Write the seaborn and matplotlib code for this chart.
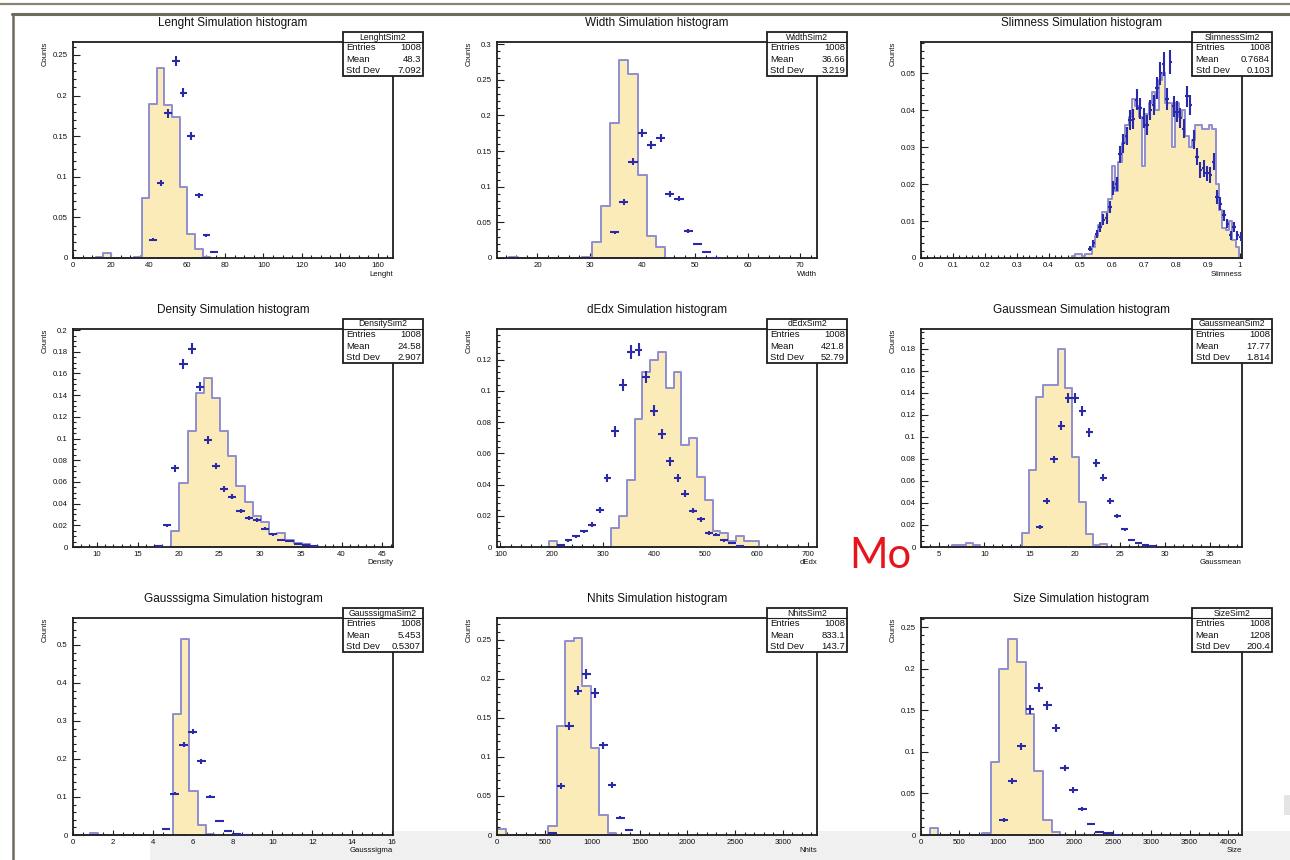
import numpy as np
import pandas as pd
import matplotlib
matplotlib.use("Agg")
import matplotlib.pyplot as plt
import seaborn as sns
from matplotlib.ticker import MultipleLocator, AutoMinorLocator, FuncFormatter
from matplotlib.patches import Rectangle
from matplotlib.lines import Line2D

# ---------------- data ----------------
ENTRIES = "1008"

LENGHT_HIST = [0, 0, 0, 0.001, 0.006, 0, 0, 0, 0.001, 0.074, 0.190, 0.234, 0.189, 0.174, 0.087, 0.030, 0.011, 0.001]
LENGHT_PTS = [0.0226, 0.0925, 0.178, 0.243, 0.2035, 0.150, 0.077, 0.028, 0.007]
LENGHT_ERR = [0.0019, 0.0038, 0.0053, 0.0062, 0.0056, 0.0048, 0.0035, 0.0021, 0.0010]

WIDTH_HIST = [0.002, 0, 0, 0, 0, 0, 0, 0, 0.002, 0.0226, 0.073, 0.189, 0.2775, 0.258, 0.1167, 0.0306, 0.015]
WIDTH_PTS = [0.036, 0.0786, 0.135, 0.1755, 0.1585, 0.168, 0.090, 0.083, 0.0376, 0.0198, 0.008, 0.0005]
WIDTH_ERR = [0.0025, 0.0036, 0.0048, 0.0054, 0.0052, 0.0053, 0.0039, 0.0037, 0.0025, 0.0018, 0.0012, 0.0003]

SLIM_HIST = [0.0005, 0.001, 0.001, 0.0005, 0.001,
             0.001, 0.003, 0.006, 0.009, 0.0125, 0.0125, 0.016, 0.025, 0.018, 0.026,
             0.031, 0.036, 0.038, 0.043, 0.041, 0.038, 0.025, 0.039, 0.042, 0.045,
             0.040, 0.048, 0.050, 0.042, 0.042, 0.030, 0.042, 0.038, 0.040, 0.033,
             0.030, 0.032, 0.036, 0.036, 0.035, 0.035, 0.036, 0.035, 0.020, 0.013,
             0.008, 0.0075, 0.010, 0.005, 0.003]
SLIM_PTS = [0.0025, 0.004, 0.0066, 0.0084, 0.0104, 0.0107, 0.0138, 0.019, 0.020, 0.028,
            0.031, 0.033, 0.0373, 0.0375, 0.0428, 0.0405, 0.0378, 0.036, 0.040, 0.0414,
            0.046, 0.050, 0.0525, 0.043, 0.053, 0.041, 0.0396, 0.0378, 0.035, 0.0437,
            0.0414, 0.032, 0.0274, 0.0238, 0.0242, 0.0229, 0.0224, 0.026, 0.0165, 0.0147,
            0.0116, 0.0093, 0.0061, 0.0084, 0.0061, 0.0058]
SLIM_ERR = [0.0007, 0.0009, 0.0011, 0.0013, 0.0014, 0.0014, 0.0016, 0.0019, 0.0020, 0.0023,
            0.0025, 0.0025, 0.0027, 0.0027, 0.0029, 0.0028, 0.0027, 0.0027, 0.0028, 0.0028,
            0.0030, 0.0031, 0.0032, 0.0029, 0.0032, 0.0028, 0.0028, 0.0027, 0.0026, 0.0029,
            0.0028, 0.0025, 0.0023, 0.0022, 0.0022, 0.0021, 0.0021, 0.0023, 0.0018, 0.0017,
            0.0015, 0.0013, 0.0011, 0.0013, 0.0011, 0.0011]

DENS_HIST = [0.0148, 0.0587, 0.107, 0.142, 0.1555, 0.1376, 0.1066, 0.0835, 0.0566, 0.0417,
             0.0287, 0.0232, 0.0124, 0.013, 0.0062, 0.0037, 0.0025, 0.001]
DENS_PTS = [0.001, 0.020, 0.0726, 0.169, 0.183, 0.1478, 0.0983, 0.0748, 0.0535, 0.0464,
            0.0331, 0.0269, 0.0247, 0.017, 0.0117, 0.0068, 0.0053, 0.0028, 0.0019, 0.0009]
DENS_ERR = [0.0004, 0.0016, 0.0031, 0.0047, 0.0049, 0.0044, 0.0036, 0.0031, 0.0027, 0.0025,
            0.0021, 0.0019, 0.0018, 0.0015, 0.0012, 0.0009, 0.0008, 0.0006, 0.0005, 0.0003]

DEDX_HIST = [0.004, 0, 0, 0, 0, 0, 0, 0, 0.012, 0.020, 0.043, 0.082, 0.112, 0.120, 0.125,
             0.102, 0.112, 0.065, 0.070, 0.045, 0.030, 0.010, 0.009, 0.004, 0.007, 0.004, 0.004]
DEDX_PTS = [0.0015, 0.0043, 0.0068, 0.010, 0.0143, 0.0239, 0.0442, 0.074, 0.104, 0.1249,
            0.1264, 0.109, 0.0873, 0.0726, 0.0549, 0.0442, 0.034, 0.0233, 0.0179, 0.009,
            0.0079, 0.0043, 0.0026, 0.0004]
DEDX_ERR = [0.0005, 0.0008, 0.0010, 0.0012, 0.0014, 0.0019, 0.0025, 0.0033, 0.0039, 0.0042,
            0.0043, 0.0040, 0.0035, 0.0032, 0.0028, 0.0025, 0.0022, 0.0018, 0.0016, 0.0011,
            0.0011, 0.0008, 0.0006, 0.0002]

GMEAN_HIST = [0.0015, 0.0015, 0.0035, 0.002, 0, 0, 0, 0, 0, 0, 0.013, 0.070, 0.136, 0.147,
              0.147, 0.180, 0.144, 0.082, 0.041, 0.012, 0.002, 0.003]
GMEAN_PTS = [0.018, 0.042, 0.0795, 0.110, 0.135, 0.135, 0.1235, 0.104, 0.0765, 0.063,
             0.042, 0.028, 0.016, 0.0067, 0.0036, 0.002, 0.001]
GMEAN_ERR = [0.0017, 0.0026, 0.0035, 0.0041, 0.0046, 0.0046, 0.0044, 0.0040, 0.0035, 0.0031,
             0.0026, 0.0021, 0.0016, 0.0010, 0.0007, 0.0006, 0.0004]

GSIG_HIST = [0, 0, 0.004, 0, 0, 0, 0, 0, 0, 0, 0, 0, 0.318, 0.517, 0.115, 0.027, 0.002]
GSIG_PTS = [0.015, 0.1085, 0.238, 0.2716, 0.194, 0.1005, 0.038, 0.0115, 0.002, 0.001]
GSIG_ERR = [0.0017, 0.0044, 0.0066, 0.0070, 0.0059, 0.0043, 0.0026, 0.0014, 0.0006, 0.0004]

NHITS_HIST = [0.008, 0, 0, 0, 0, 0, 0.012, 0.139, 0.248, 0.252, 0.191, 0.111, 0.026, 0.002]
NHITS_PTS = [0.002, 0.063, 0.140, 0.185, 0.206, 0.182, 0.115, 0.064, 0.022, 0.007]
NHITS_ERR = [0.0006, 0.0035, 0.0052, 0.0060, 0.0064, 0.0060, 0.0047, 0.0035, 0.0021, 0.0012]

SIZE_HIST = [0, 0.008, 0, 0, 0, 0, 0, 0.003, 0.088, 0.200, 0.236, 0.208, 0.145, 0.077, 0.018, 0.004]
SIZE_PTS = [0.018, 0.065, 0.1065, 0.151, 0.1774, 0.156, 0.129, 0.0806, 0.0544, 0.031,
            0.0133, 0.004, 0.002, 0.0005]
SIZE_ERR = [0.0019, 0.0036, 0.0047, 0.0056, 0.0060, 0.0056, 0.0051, 0.0041, 0.0033, 0.0025,
            0.0016, 0.0009, 0.0006, 0.0003]

VARS = ["Lenght", "Width", "Slimness", "Density", "dEdx", "Gaussmean", "Gausssigma", "Nhits", "Size"]
MEANS = ["48.3", "36.66", "0.7684", "24.58", "421.8", "17.77", "5.453", "833.1", "1208"]
STDS = ["7.092", "3.219", "0.103", "2.907", "52.79", "1.814", "0.5307", "143.7", "200.4"]

# ---------------- binning / axis configuration ----------------
PANELS = [
    dict(hist=LENGHT_HIST, h0=0.0, hw=4.0, pts=LENGHT_PTS, err=LENGHT_ERR, p0=42.0, pw=4.0,
         xlim=(0, 168), ylim=(0, 0.266), xmaj=20, xmin=4, ymaj=0.05, ymin=5),
    dict(hist=WIDTH_HIST, h0=14.55, hw=1.75, pts=WIDTH_PTS, err=WIDTH_ERR, p0=34.675, pw=1.75,
         xlim=(12.3, 73.2), ylim=(0, 0.303), xmaj=10, xmin=5, ymaj=0.05, ymin=5),
    dict(hist=SLIM_HIST, h0=0.4725, hw=0.0105, pts=SLIM_PTS, err=SLIM_ERR, p0=0.530, pw=0.0105,
         xlim=(0, 1.007), ylim=(0, 0.0584), xmaj=0.1, xmin=5, ymaj=0.01, ymin=5),
    dict(hist=DENS_HIST, h0=19.1, hw=1.0, pts=DENS_PTS, err=DENS_ERR, p0=17.6, pw=1.0,
         xlim=(7.05, 46.3), ylim=(0, 0.201), xmaj=5, xmin=5, ymaj=0.02, ymin=4),
    dict(hist=DEDX_HIST, h0=195.0, hw=15.2, pts=DEDX_PTS, err=DEDX_ERR, p0=217.8, pw=15.2,
         xlim=(93.5, 718), ylim=(0, 0.1396), xmaj=100, xmin=5, ymaj=0.02, ymin=5),
    dict(hist=GMEAN_HIST, h0=6.4, hw=0.78, pts=GMEAN_PTS, err=GMEAN_ERR, p0=16.15, pw=0.78,
         xlim=(3.0, 38.5), ylim=(0, 0.198), xmaj=5, xmin=5, ymaj=0.02, ymin=4),
    dict(hist=GSIG_HIST, h0=0.0, hw=0.41667, pts=GSIG_PTS, err=GSIG_ERR, p0=4.6667, pw=0.4444,
         xlim=(0, 16.05), ylim=(0, 0.571), xmaj=2, xmin=4, ymaj=0.1, ymin=5),
    dict(hist=NHITS_HIST, h0=0.0, hw=89.3, pts=NHITS_PTS, err=NHITS_ERR, p0=580.45, pw=89.3,
         xlim=(0, 3360), ylim=(0, 0.278), xmaj=500, xmin=5, ymaj=0.05, ymin=5),
    dict(hist=SIZE_HIST, h0=0.0, hw=113.5, pts=SIZE_PTS, err=SIZE_ERR, p0=1078.25, pw=113.5,
         xlim=(0, 4182), ylim=(0, 0.261), xmaj=500, xmin=4, ymaj=0.05, ymin=5),
]

# ---------------- styling ----------------
FILL = "#FAEBB8"
EDGE = "#8E8ED2"
PTC = "#2A2AA8"
FRAME = "#1e1e1e"

sns.set_theme(style="white")
plt.rcParams["font.family"] = ["Liberation Sans", "DejaVu Sans"]

W, H = 1290, 860
fig = plt.figure(figsize=(12.9, 8.6), dpi=100)
fig.patch.set_facecolor("white")


def fx(px):
    return px / W


def fy(py):
    return 1 - py / H


# faint grey reflection band at the bottom of the slide screenshot
fig.add_artist(Rectangle((fx(150), 0), 1 - fx(150), (860 - 831) / H, transform=fig.transFigure,
                         facecolor="#f0f0f0", edgecolor="none", zorder=-5))
fig.add_artist(Rectangle((fx(1284), fy(815)), 6 / W, 20 / H, transform=fig.transFigure,
                         facecolor="#e4e4e4", edgecolor="none", zorder=-5))

COLS = [(73, 393), (497, 817), (921, 1242)]
ROWS = [(42, 258), (329, 547), (618, 835)]

fmt = FuncFormatter(lambda v, p: "%g" % round(v, 6))

for i, P in enumerate(PANELS):
    L, R = COLS[i % 3]
    T, B = ROWS[i // 3]
    ax = fig.add_axes([fx(L), fy(B), (R - L) / W, (B - T) / H])

    hv = np.array(P["hist"], dtype=float)
    edges = P["h0"] + P["hw"] * np.arange(len(hv) + 1)
    centers = edges[:-1] + P["hw"] / 2
    hdf = pd.DataFrame({"x": centers, "w": hv})
    sns.histplot(data=hdf, x="x", weights="w", bins=[float(e) for e in edges],
                 element="step", fill=True, color=FILL, edgecolor=EDGE,
                 linewidth=1.4, alpha=1.0, ax=ax)

    pv = np.array(P["pts"], dtype=float)
    px_ = P["p0"] + P["pw"] * np.arange(len(pv))
    ax.errorbar(px_, pv, xerr=P["pw"] / 2, yerr=P["err"], fmt="none",
                ecolor=PTC, elinewidth=1.5, capsize=0, zorder=4)

    ax.set_xlim(*P["xlim"])
    ax.set_ylim(*P["ylim"])
    ax.set_xlabel("")
    ax.set_ylabel("")
    ax.set_facecolor("white")
    for s in ax.spines.values():
        s.set_visible(True)
        s.set_color(FRAME)
        s.set_linewidth(1.3)
    ax.xaxis.set_major_locator(MultipleLocator(P["xmaj"]))
    ax.xaxis.set_minor_locator(AutoMinorLocator(P["xmin"]))
    ax.yaxis.set_major_locator(MultipleLocator(P["ymaj"]))
    ax.yaxis.set_minor_locator(AutoMinorLocator(P["ymin"]))
    ax.xaxis.set_major_formatter(fmt)
    ax.yaxis.set_major_formatter(fmt)
    ax.tick_params(axis="both", which="both", direction="in", top=False, right=False,
                   bottom=True, left=True, colors=FRAME, labelcolor="#111111",
                   labelsize=5.6, width=0.8)
    ax.tick_params(axis="x", which="major", length=3.8, pad=3.2)
    ax.tick_params(axis="x", which="minor", length=2.0)
    ax.tick_params(axis="y", which="major", length=4.8, pad=3.8)
    ax.tick_params(axis="y", which="minor", length=2.4)

    var = VARS[i]
    # title
    fig.text(fx((L + R) / 2), fy(T - 19), f"{var} Simulation histogram",
             ha="center", va="center", fontsize=8.5, color="#111111")
    # axis titles
    fig.text(fx(L - 28), fy(T), "Counts", rotation=90, ha="center", va="top",
             fontsize=5.5, color="#111111")
    fig.text(fx(R), fy(B + 16), var, ha="right", va="center", fontsize=5.6, color="#111111")

    # stat box
    bl, br = R - 50, R + 30
    bt, bb = T - 10, T + 34
    fig.add_artist(Rectangle((fx(bl), fy(bb)), (br - bl) / W, (bb - bt) / H,
                             transform=fig.transFigure, facecolor="white",
                             edgecolor=FRAME, linewidth=1.3, zorder=10))
    fig.add_artist(Line2D([fx(bl), fx(br)], [fy(bt + 10)] * 2, transform=fig.transFigure,
                          color=FRAME, linewidth=0.8, zorder=11))
    fig.text(fx((bl + br) / 2), fy(bt + 5), f"{var}Sim2", ha="center", va="center",
             fontsize=6.2, color="#111111", zorder=12)
    rows = [("Entries", ENTRIES), ("Mean", MEANS[i]), ("Std Dev", STDS[i])]
    for k, (lab, val) in enumerate(rows):
        yy = bt + 15.7 + 11.4 * k
        fig.text(fx(bl + 3.5), fy(yy), lab, ha="left", va="center", fontsize=6.8,
                 color="#111111", zorder=12)
        fig.text(fx(br - 2), fy(yy), val, ha="right", va="center", fontsize=6.8,
                 color="#111111", zorder=12)

# slide frame lines
fig.add_artist(Line2D([0, 1], [fy(4), fy(4)], transform=fig.transFigure,
                      color="#8a8474", linewidth=1.6))
fig.add_artist(Line2D([fx(12), 1], [fy(14), fy(14)], transform=fig.transFigure,
                      color="#6f6a5c", linewidth=2.2))
fig.add_artist(Line2D([fx(13), fx(13)], [fy(14), 0], transform=fig.transFigure,
                      color="#6f6a5c", linewidth=1.8))

# red annotation from the slide
fig.text(fx(849), fy(556), "Mo", ha="left", va="center", fontsize=30,
         color="#e8141c", family=["Lato", "DejaVu Sans"])

fig.savefig("out.png", dpi=100, facecolor="white")
